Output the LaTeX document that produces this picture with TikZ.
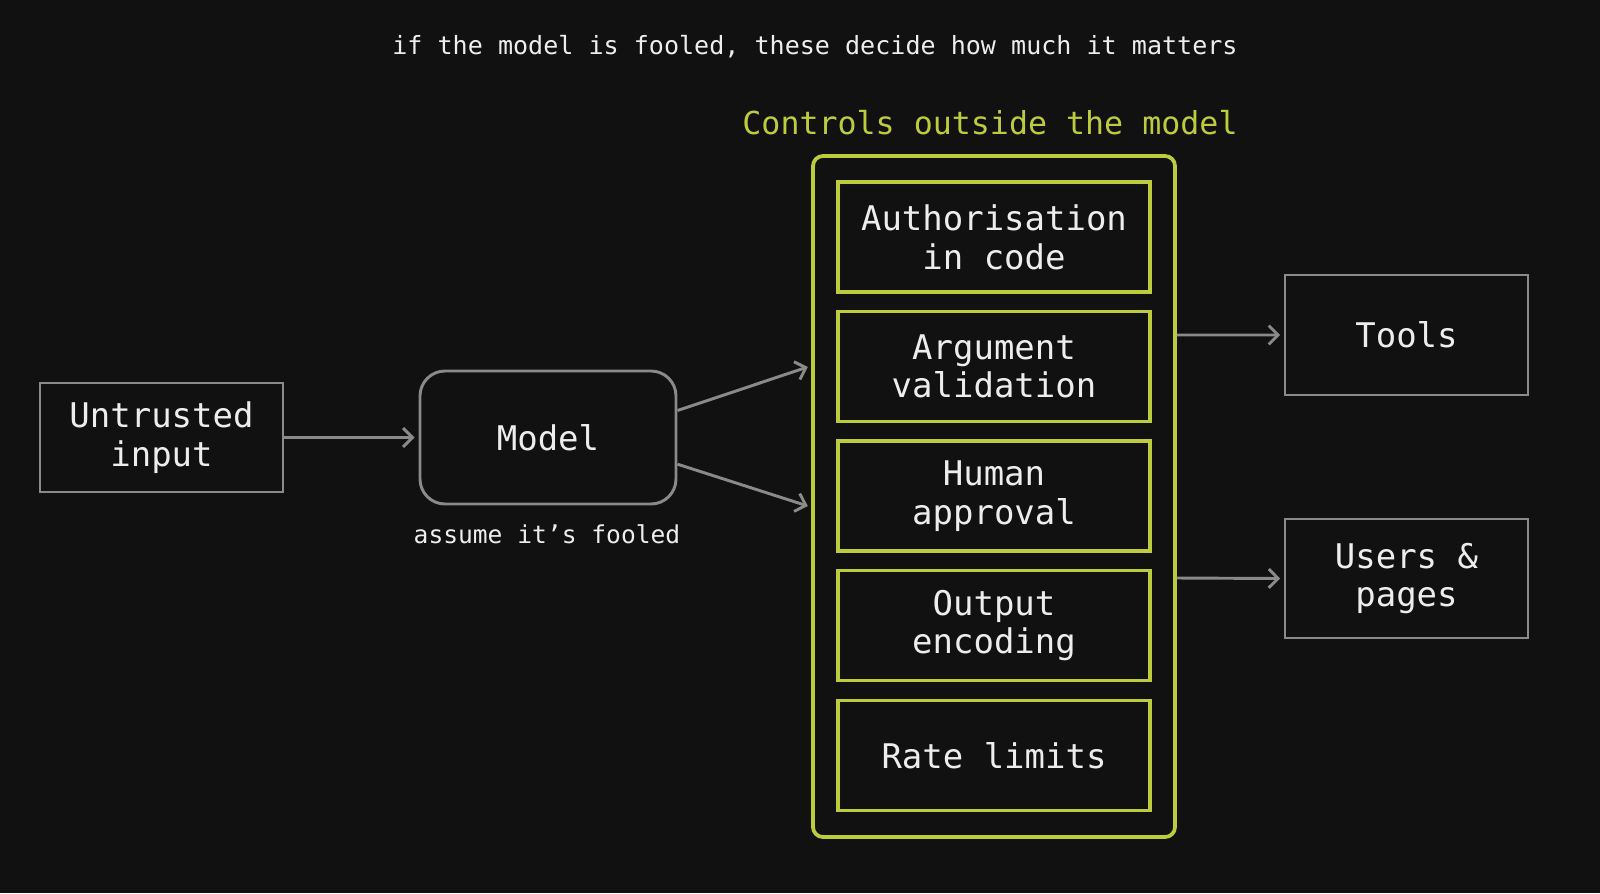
\documentclass[tikz,border=0pt]{standalone}
\usepackage{fontspec}
\setmainfont{DejaVu Sans Mono}
\usetikzlibrary{arrows.meta}
\definecolor{bg}{HTML}{111111}
\definecolor{ln}{HTML}{8A8A8A}
\definecolor{gr}{HTML}{BCCC3C}
\definecolor{tx}{HTML}{EDEDED}
\begin{document}
\begin{tikzpicture}[x=0.03cm,y=-0.03cm,
  box/.style={draw=ln,line width=2.5pt,text=tx,align=center,font=\fontsize{29}{33}\selectfont,inner sep=0pt},
  gbox/.style={draw=gr,line width=3.2pt,text=tx,align=center,font=\fontsize{29}{33}\selectfont,minimum width=9.36cm,minimum height=3.3cm,inner sep=0pt},
  arr/.style={draw=ln,line width=2.5pt,-{Straight Barb[length=8pt,width=16pt,line width=2.5pt]}}]
\fill[bg] (0,0) rectangle (1600,893);
\useasboundingbox (0,0) rectangle (1600,893);
\node[text=tx,font=\fontsize{21.4}{24}\selectfont] (title) at (815,47) {if the model is fooled, these decide how much it matters};
\node[text=gr,font=\fontsize{27}{30}\selectfont] (ctitle) at (990,123) {Controls outside the model};
\node[draw=gr,line width=3.2pt,rounded corners=0.3cm,minimum width=10.86cm,minimum height=20.43cm] (outer) at (994,496.5) {};
\node[gbox] (a) at (994,237) {Authorisation\\in code};
\node[gbox] (b) at (994,366.5) {Argument\\validation};
\node[gbox] (c) at (994,496) {Human\\approval};
\node[gbox] (d) at (994,625.5) {Output\\encoding};
\node[gbox] (e) at (994,755.5) {Rate limits};
\node[box,minimum width=7.29cm,minimum height=3.27cm] (in) at (161.5,437.5) {Untrusted\\input};
\node[box,rounded corners=0.75cm,minimum width=7.68cm,minimum height=3.99cm] (model) at (548,437.5) {Model};
\node[text=tx,font=\fontsize{21}{24}\selectfont] (note) at (547,534) {assume it’s fooled};
\node[box,minimum width=7.29cm,minimum height=3.6cm] (tools) at (1406.5,335) {Tools};
\node[box,minimum width=7.29cm,minimum height=3.57cm] (users) at (1406.5,578.5) {Users \&\\pages};
\draw[arr] (in.east) -- ([xshift=-0.12cm]model.west);
\draw[arr] ([yshift=0.81cm]model.east) -- ([yshift=3.885cm,xshift=-0.1cm]outer.west);
\draw[arr] ([yshift=-0.8cm]model.east) -- ([yshift=-0.285cm,xshift=-0.1cm]outer.west);
\draw[arr] ([yshift=4.845cm]outer.east) -- ([xshift=-0.1cm]tools.west);
\draw[arr] ([yshift=-2.445cm]outer.east) -- ([xshift=-0.1cm]users.west);
\end{tikzpicture}
\end{document}
